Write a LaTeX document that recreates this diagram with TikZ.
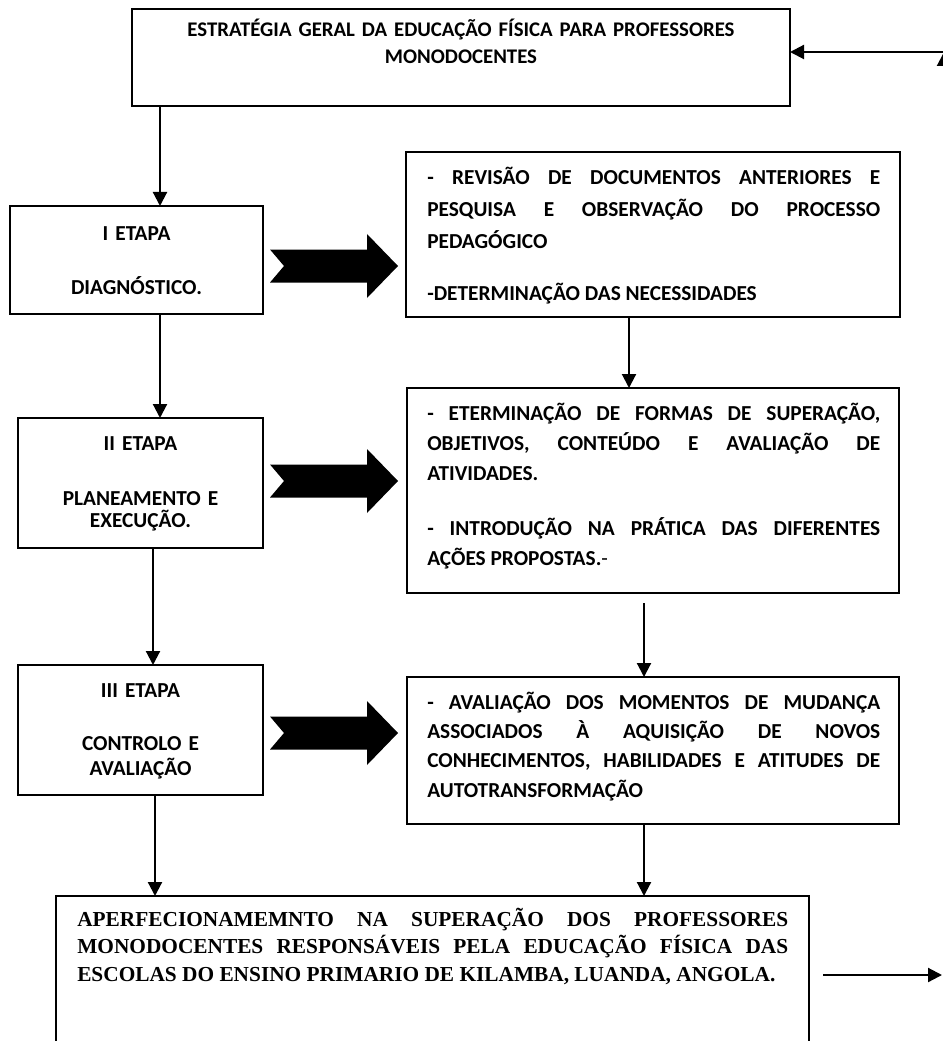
\documentclass[tikz,border=0pt]{standalone}
\usepackage{fontspec}
\setmainfont{Carlito}
\newfontfamily\timesfont{Liberation Serif}
\usetikzlibrary{arrows.meta}
\hyphenpenalty=10000

\begin{document}
\begin{tikzpicture}[
        x=0.75pt, y=-0.75pt,
        panel/.style={draw, line width=0.9pt, inner sep=0pt, outer sep=0pt, anchor=north west},
        headtxt/.style={inner sep=0pt, anchor=base, text width=465pt, align=center, font=\fontsize{15.6}{20.25}\selectfont\bfseries},
        stagetxt/.style={inner sep=0pt, anchor=base, text width=172.5pt, align=center, font=\fontsize{16}{18}\selectfont\bfseries},
        notetxt/.style={inner sep=0pt, anchor=base west, text width=339.75pt, align=justify, font=\fontsize{16}{22.5}\selectfont\bfseries},
        finaltxt/.style={inner sep=0pt, anchor=base west, text width=533.25pt, align=justify, font=\timesfont\fontsize{16}{20.6}\selectfont\bfseries},
        flow/.style={line width=1.6pt, -{Triangle[width=10.5pt, length=10.5pt]}},
        bigarrow/.pic={\fill (0,-16.5) -- (97,-16.5) -- (97,-32) -- (128,0) -- (97,32) -- (97,16.5) -- (0,16.5) -- (14,0) -- cycle;}
    ]
        \useasboundingbox (0,0) rectangle (942,1041);

        % strategy box
        \node[panel, minimum width=493.5pt, minimum height=72.75pt] (strat) at (132,9) {};
        \node[headtxt] (strattxt) at (461,36.5) {ESTRATÉGIA GERAL DA EDUCAÇÃO FÍSICA PARA PROFESSORES\\MONODOCENTES};

        % stages
        \node[panel, minimum width=189.75pt, minimum height=81pt] (diag) at (10,206) {};
        \node[stagetxt] (diagtxt) at (136.5,240) {I ETAPA\\[22.5pt]DIAGNÓSTICO.};

        \node[panel, minimum width=183.75pt, minimum height=97.5pt] (plan) at (18,418) {};
        \node[stagetxt] (plantxt) at (140.5,450) {II ETAPA\\[23.25pt]PLANEAMENTO E\\[-1.5pt]EXECUÇÃO.};

        \node[panel, minimum width=183.75pt, minimum height=97.5pt] (ctrl) at (18,665) {};
        \node[stagetxt] (ctrltxt) at (140.5,697) {III ETAPA\\[21.75pt]CONTROLO E\\[1pt]AVALIAÇÃO};

        % actions
        \node[panel, minimum width=370.5pt, minimum height=123.75pt] (rev) at (406,152) {};
        \node[notetxt, font=\fontsize{16}{24}\selectfont\bfseries] (revtxt) at (427,185) {- REVISÃO DE DOCUMENTOS ANTERIORES E\linebreak PESQUISA E OBSERVAÇÃO DO PROCESSO\linebreak PEDAGÓGICO\\[15pt]-DETERMINAÇÃO DAS NECESSIDADES};

        \node[panel, minimum width=369pt, minimum height=153.75pt] (det) at (407,388) {};
        \node[notetxt] (dettxt) at (427,420) {- ETERMINAÇÃO DE FORMAS DE SUPERAÇÃO,\linebreak OBJETIVOS, CONTEÚDO E AVALIAÇÃO DE\linebreak ATIVIDADES.\\[18.75pt]- INTRODUÇÃO NA PRÁTICA DAS DIFERENTES\linebreak AÇÕES PROPOSTAS.{\mdseries -}};

        \node[panel, minimum width=369pt, minimum height=110.25pt] (aval) at (407,677) {};
        \node[notetxt, font=\fontsize{16}{22.1}\selectfont\bfseries] (avaltxt) at (427,709) {- AVALIAÇÃO DOS MOMENTOS DE MUDANÇA\linebreak ASSOCIADOS À AQUISIÇÃO DE NOVOS\linebreak CONHECIMENTOS, HABILIDADES E ATITUDES DE\linebreak AUTOTRANSFORMAÇÃO};

        % result
        \node[panel, minimum width=564.75pt, minimum height=120pt] (aperf) at (56,896) {};
        \node[finaltxt] (aperftxt) at (77,926.5) {APERFECIONAMEMNTO NA SUPERAÇÃO DOS PROFESSORES\linebreak MONODOCENTES RESPONSÁVEIS PELA EDUCAÇÃO FÍSICA DAS\linebreak ESCOLAS DO ENSINO PRIMARIO DE KILAMBA, LUANDA, ANGOLA.};

        % block arrows
        \pic at (270,266) {bigarrow};
        \pic at (270,481) {bigarrow};
        \pic at (270,733) {bigarrow};

        % flow
        \draw[flow] (strat.south -| 160,0) -- (diag.north -| 160,0);
        \draw[flow] (diag.south -| 160,0) -- (plan.north -| 160,0);
        \draw[flow] (plan.south -| 153,0) -- (ctrl.north -| 153,0);
        \draw[flow] (ctrl.south -| 155,0) -- (aperf.north -| 155,0);
        \draw[flow] (rev.south -| 629,0) -- (det.north -| 629,0);
        \draw[flow, shorten <=7.5pt] (det.south -| 644,0) -- (aval.north -| 644,0);
        \draw[flow] (aval.south -| 644,0) -- (aperf.north -| 644,0);

        % feedback
        \coordinate (outB) at (942,975);
        \coordinate (loopB) at (944,975);
        \coordinate (loopT) at (944,52);
        \draw[flow, shorten <=10.5pt] (aperf.east |- outB) -- (outB);
        \draw[flow] (loopB) -- (loopT);
        \draw[flow] (loopT) -- (strat.east |- loopT);

    \end{tikzpicture}
\end{document}
